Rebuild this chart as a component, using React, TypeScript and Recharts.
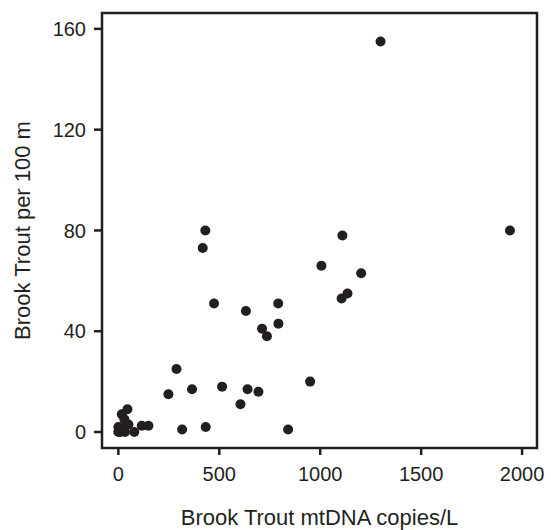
import React from "react";
import { ScatterChart, Scatter, XAxis, YAxis, ReferenceArea } from "recharts";

const mtdnaCopies = [
  1299, 1940, 431, 418, 1110, 1006, 1203, 1135, 1106, 474, 632, 792, 793, 712, 736,
  288, 248, 365, 514, 640, 694, 605, 950, 316, 433, 841,
  45, 17, 30, 0, 0, 33, 79, 116, 149, 17, 50, 10,
];
const troutPer100m = [
  155, 80, 80, 73, 78, 66, 63, 55, 53, 51, 48, 51, 43, 41, 38,
  25, 15, 17, 18, 17, 16, 11, 20, 1, 2, 1,
  9, 7, 5, 2, 0, 0, 0, 2.5, 2.5, 1.5, 3, 0,
];
const xTicks = [0, 500, 1000, 1500, 2000];
const yTicks = [0, 40, 80, 120, 160];

const X_DOMAIN: [number, number] = [-81, 2074];
const Y_DOMAIN: [number, number] = [-6.35, 166.3];

const data = mtdnaCopies.map((x, i) => ({ x, y: troutPer100m[i] }));

const INK = "#231f20";
const FONT = "'Liberation Sans', Arial, sans-serif";

const Dot = (props: any) => <circle cx={props.cx} cy={props.cy} r={5} fill={INK} />;

export default function App() {
  return (
    <div style={{ position: "absolute", left: 0, top: 0, width: 551, height: 530, background: "#fff" }}>
      <ScatterChart width={551} height={530} margin={{ top: 13, right: 14, left: 0, bottom: 0 }}>
        <XAxis
          type="number"
          dataKey="x"
          domain={X_DOMAIN}
          allowDataOverflow
          ticks={xTicks}
          axisLine={false}
          tickLine={{ stroke: INK, strokeWidth: 2.5 }}
          tickSize={7}
          tickMargin={12}
          height={82}
          tick={{ fill: INK, fontSize: 20, fontFamily: FONT }}
          label={{
            value: "Brook Trout mtDNA copies/L",
            position: "insideBottom",
            offset: 5,
            fill: INK,
            fontSize: 22,
            fontFamily: FONT,
          }}
        />
        <YAxis
          type="number"
          dataKey="y"
          domain={Y_DOMAIN}
          allowDataOverflow
          ticks={yTicks}
          axisLine={false}
          tickLine={{ stroke: INK, strokeWidth: 2.5 }}
          tickSize={8}
          tickMargin={8}
          width={102}
          tick={{ fill: INK, fontSize: 20, fontFamily: FONT }}
          label={{
            value: "Brook Trout per 100 m",
            angle: -90,
            position: "insideLeft",
            offset: 22,
            style: { textAnchor: "middle" },
            fill: INK,
            fontSize: 22,
            fontFamily: FONT,
          }}
        />
        <ReferenceArea
          x1={X_DOMAIN[0]}
          x2={X_DOMAIN[1]}
          y1={Y_DOMAIN[0]}
          y2={Y_DOMAIN[1]}
          fill="none"
          stroke={INK}
          strokeWidth={2.5}
          ifOverflow="visible"
        />
        <Scatter data={data} fill={INK} shape={Dot} isAnimationActive={false} />
      </ScatterChart>
    </div>
  );
}
